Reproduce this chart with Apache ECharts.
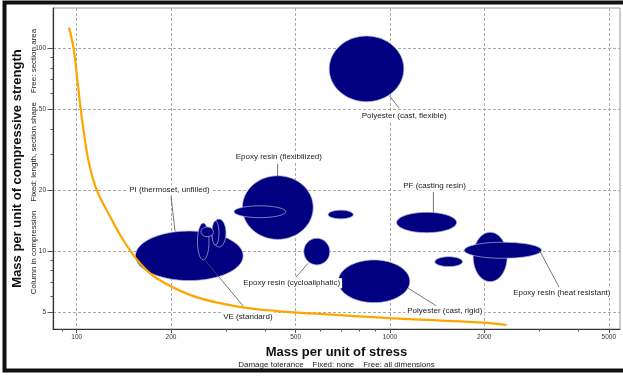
<!DOCTYPE html>
<html>
<head>
<meta charset="utf-8">
<script src="https://cdn.jsdelivr.net/npm/echarts@6/dist/echarts.min.js"></script>
<style>
  html, body { margin: 0; padding: 0; background: #fff; }
  #chart { width: 623px; height: 376px; }
</style>
</head>
<body>
<div id="chart"></div>
<script>
// Property ranges of each polymer grade (drawn in this order, later ones on top)
const grades = [
  'PI (thermoset, unfilled)',
  'VE (standard), grade A',
  'VE (standard), grade B',
  'VE (standard), grade C',
  'VE (standard), grade D',
  'Epoxy resin (flexibilized)',
  'Epoxy resin (flexibilized), low grade',
  'Epoxy resin (cycloaliphatic)',
  'Epoxy resin, general purpose',
  'Polyester (cast, flexible)',
  'PF (casting resin)',
  'Polyester (cast, rigid)',
  'Polyester, heat resistant',
  'Epoxy resin (heat resistant), grade A',
  'Epoxy resin (heat resistant)'
];
// Mass per unit of stress: low / high
const stressLow  = [154, 243, 270.3, 270.3, 249.3, 338, 318, 531, 635, 640, 1051, 684, 1392, 1845, 1727];
const stressHigh = [340, 264.5, 299.7, 284.6, 273.3, 569, 465, 643, 764, 1108, 1633, 1158, 1706, 2368, 3050];
// Mass per unit of compressive strength: low / high
const strengthLow  = [7.14, 9.03, 10.46, 10.7, 11.76, 11.4, 14.6, 8.53, 14.4, 54.5, 12.3, 5.56, 8.37, 7.06, 9.2];
const strengthHigh = [12.55, 13.74, 14.38, 14.06, 13.13, 23.5, 16.7, 11.55, 15.9, 115, 15.5, 9.03, 9.37, 12.37, 11.04];

// Selection guide line
const guideStress   = [94.5, 97.7, 100.4, 103.0, 105.7, 108.9, 115.8, 127.8, 140.8, 159.2, 180.0, 229.9, 293.8, 375.4, 479.6, 597.7, 1000, 1985, 2358];
const guideStrength = [126.4, 100, 70.6, 50, 37.3, 28.1, 20.0, 14.8, 11.3, 8.7, 7.33, 6.07, 5.48, 5.16, 4.99, 4.89, 4.66, 4.43, 4.31];

// Annotations: text anchor and leader line ends, in data units
const labelText = [
  'Polyester (cast, flexible)', 'Epoxy resin (flexibilized)', 'PI (thermoset, unfilled)',
  'VE (standard)', 'Epoxy resin (cycloaliphatic)', 'PF (casting resin)',
  'Polyester (cast, rigid)', 'Epoxy resin (heat resistant)'
];
const labelStress   = [1111, 442, 197.8, 352, 485.6, 1389, 1498, 3540];
const labelStrength = [46.3, 29.2, 20.0, 4.74, 6.93, 21.0, 5.06, 6.23];
const leaderStress1   = [995, 438, 200, 255, 501, 1377, 1144, 3011];
const leaderStrength1 = [58.4, 26.9, 18.7, 9.13, 7.42, 19.55, 6.55, 10];
const leaderStress2   = [1071, 438, 206, 340, 548.5, 1377, 1409, 3471];
const leaderStrength2 = [50.6, 23.4, 12.55, 5.35, 8.7, 15.5, 5.35, 6.62];

// Axis ticks
const xTickLabels = [100, 200, 500, 1000, 2000, 5000];
const xMinorTicks = [90, 300, 400, 600, 700, 800, 900, 3000, 4000];
const yTickLabels = [5, 10, 20, 50, 100];
const yMinorTicks = [6, 7, 8, 9, 30, 40, 60, 70, 80, 90];

const FONT = '"Liberation Sans", Arial, sans-serif';
const X_MIN = 84, X_MAX = 5430, Y_MIN = 4.12, Y_MAX = 158;

const ellipseData = grades.map((g, i) => [stressLow[i], stressHigh[i], strengthLow[i], strengthHigh[i]]);
const guideData = guideStress.map((x, i) => [x, guideStrength[i]]);
const labelData = labelText.map((t, i) => [
  labelStress[i], labelStrength[i],
  leaderStress1[i], leaderStrength1[i],
  leaderStress2[i], leaderStrength2[i]
]);

const chart = echarts.init(document.getElementById('chart'), null, { renderer: 'canvas' });

// Overlay axis carrying only the short minor ticks
const minorAxis = (min, max, vals, len, position) => ({
  type: 'log', min, max, position,
  axisLine: { show: false },
  axisTick: { show: true, customValues: vals, length: len, lineStyle: { color: '#555', width: 1 } },
  axisLabel: { show: false },
  splitLine: { show: false }
});

chart.setOption({
  animation: false,
  backgroundColor: '#fff',
  grid: {
    left: 53, top: 8, width: 567, height: 321,
    containLabel: false, outerBoundsMode: 'none',
    show: true, borderColor: '#9a9a9a', borderWidth: 1, backgroundColor: 'transparent'
  },
  xAxis: [
    {
      type: 'log', min: X_MIN, max: X_MAX, position: 'bottom',
      axisLine: { lineStyle: { color: '#333', width: 1.2 } },
      axisTick: { customValues: xTickLabels, length: 4, lineStyle: { color: '#555' } },
      axisLabel: {
        customValues: xTickLabels, margin: 5, fontSize: 6.5, fontFamily: FONT, color: '#333',
        formatter: v => String(Math.round(v))
      },
      splitLine: { show: true, lineStyle: { color: '#aaa', width: 1, type: [3, 2] } },
      name: '{t|Mass per unit of stress}\n{s|Damage tolerance    Fixed: none    Free: all dimensions}',
      nameLocation: 'middle', nameGap: 11,
      nameTextStyle: {
        rich: {
          t: { fontSize: 13, fontWeight: 'bold', fontFamily: FONT, color: '#111', lineHeight: 14 },
          s: { fontSize: 8, fontFamily: FONT, color: '#222', lineHeight: 10 }
        }
      }
    },
    minorAxis(X_MIN, X_MAX, xMinorTicks, 2.5, 'bottom')
  ],
  yAxis: [
    {
      type: 'log', min: Y_MIN, max: Y_MAX, position: 'left',
      axisLine: { lineStyle: { color: '#333', width: 1.2 } },
      axisTick: { customValues: yTickLabels, length: 5.5, lineStyle: { color: '#555' } },
      axisLabel: {
        customValues: yTickLabels, margin: 7, fontSize: 6.5, fontFamily: FONT, color: '#333',
        formatter: v => String(Math.round(v))
      },
      splitLine: { show: true, lineStyle: { color: '#aaa', width: 1, type: [3, 2] } },
      name: 'Mass per unit of compressive strength',
      nameLocation: 'middle', nameGap: 22,
      nameTextStyle: { fontSize: 13, fontWeight: 'bold', fontFamily: FONT, color: '#111' }
    },
    minorAxis(Y_MIN, Y_MAX, yMinorTicks, 2.5, 'left')
  ],
  graphic: [
    {
      type: 'text', x: 33.5, y: 161.5, rotation: Math.PI / 2,
      style: {
        text: 'Column in compression    Fixed: length, section shape    Free: section area',
        font: '8px ' + FONT, fill: '#222', align: 'center', verticalAlign: 'middle'
      }
    },
    {
      type: 'rect', silent: true, z: 100,
      shape: { x: 4.5, y: 2.5, width: 700, height: 368 },
      style: { fill: 'none', stroke: '#111', lineWidth: 4 }
    }
  ],
  series: [
    {
      type: 'custom',
      name: 'grades',
      xAxisIndex: 0, yAxisIndex: 0,
      data: ellipseData,
      encode: { x: [0, 1], y: [2, 3] },
      z: 2,
      renderItem: (params, api) => {
        const p0 = api.coord([api.value(0), api.value(2)]);
        const p1 = api.coord([api.value(1), api.value(3)]);
        return {
          type: 'ellipse',
          shape: {
            cx: (p0[0] + p1[0]) / 2, cy: (p0[1] + p1[1]) / 2,
            rx: Math.abs(p1[0] - p0[0]) / 2, ry: Math.abs(p1[1] - p0[1]) / 2
          },
          style: { fill: '#000080', stroke: '#b4b4da', lineWidth: 0.7 }
        };
      }
    },
    {
      type: 'line',
      name: 'guide',
      xAxisIndex: 0, yAxisIndex: 0,
      data: guideData,
      showSymbol: false,
      smooth: 0.4,
      z: 3,
      lineStyle: { color: '#FFA500', width: 2.2 }
    },
    {
      type: 'custom',
      name: 'annotations',
      xAxisIndex: 0, yAxisIndex: 0,
      data: labelData,
      encode: { x: [0, 2, 4], y: [1, 3, 5] },
      z: 4,
      renderItem: (params, api) => {
        const t = api.coord([api.value(0), api.value(1)]);
        const a = api.coord([api.value(2), api.value(3)]);
        const b = api.coord([api.value(4), api.value(5)]);
        return {
          type: 'group',
          children: [
            {
              type: 'line',
              shape: { x1: a[0], y1: a[1], x2: b[0], y2: b[1] },
              style: { stroke: '#555', lineWidth: 0.8 }
            },
            {
              type: 'text', x: t[0], y: t[1],
              style: {
                text: labelText[params.dataIndex],
                font: '8px ' + FONT, fill: '#222',
                align: 'center', verticalAlign: 'middle',
                backgroundColor: '#fff', padding: [1, 2]
              }
            }
          ]
        };
      }
    }
  ]
});
</script>
</body>
</html>
